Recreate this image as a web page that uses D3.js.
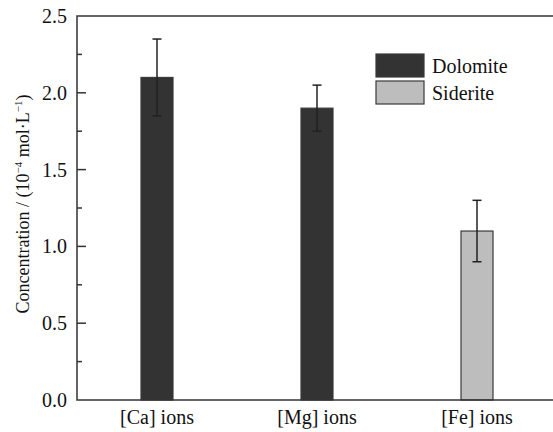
<!DOCTYPE html>
<html>
<head>
<meta charset="utf-8">
<script src="https://cdn.jsdelivr.net/npm/d3@7"></script>
<style>
  body { margin: 0; background: #fff; }
</style>
</head>
<body>
<svg id="chart" width="553" height="432"></svg>
<script>
const categories = ['[Ca] ions', '[Mg] ions', '[Fe] ions']
const values = [2.1, 1.9, 1.1]
const errors = [0.25, 0.15, 0.2]
const groups = ['Dolomite', 'Dolomite', 'Siderite']
const legendItems = ['Dolomite', 'Siderite']
const yTicks = [0, 0.5, 1.0, 1.5, 2.0, 2.5]

const colors = { Dolomite: '#333333', Siderite: '#bdbdbd' }
const axisColor = '#333'
const FONT = "'Liberation Serif'"

const margin = { left: 77, top: 16, bottom: 32 }
const W = 553, H = 432

const svg = d3.select('#chart')

const x = d3.scaleBand(categories, [margin.left, margin.left + 480])
const y = d3.scaleLinear([0, 2.5], [H - margin.bottom, margin.top])
const barW = 32

// bars
svg.append('g').selectAll('rect')
  .data(categories)
  .join('rect')
  .attr('x', d => x(d) + x.bandwidth() / 2 - barW / 2)
  .attr('width', barW)
  .attr('y', (d, i) => y(values[i]))
  .attr('height', (d, i) => y(0) - y(values[i]))
  .attr('fill', (d, i) => colors[groups[i]])
  .attr('stroke', '#3a3a3a')
  .attr('stroke-width', 1.2)

// error bars
const eb = svg.append('g').attr('stroke', '#222').attr('stroke-width', 1.5)
categories.forEach((c, i) => {
  const cx = x(c) + x.bandwidth() / 2
  const lo = y(values[i] - errors[i]), hi = y(values[i] + errors[i])
  eb.append('line').attr('x1', cx).attr('x2', cx).attr('y1', lo).attr('y2', hi)
  eb.append('line').attr('x1', cx - 4.5).attr('x2', cx + 4.5).attr('y1', lo).attr('y2', lo)
  eb.append('line').attr('x1', cx - 4.5).attr('x2', cx + 4.5).attr('y1', hi).attr('y2', hi)
})

// frame (left, bottom, top)
const frame = svg.append('g').attr('stroke', axisColor).attr('stroke-width', 1.5).attr('fill', 'none')
frame.append('path')
  .attr('d', `M${W},${y(2.5)}H${margin.left}V${y(0)}H${W}`)

// y axis ticks (inside)
const minor = d3.range(0.25, 2.5, 0.5)
frame.selectAll('line.major').data(yTicks.slice(1, -1)).join('line')
  .attr('class', 'major')
  .attr('x1', margin.left).attr('x2', margin.left + 9)
  .attr('y1', d => y(d)).attr('y2', d => y(d))
frame.selectAll('line.minor').data(minor).join('line')
  .attr('class', 'minor')
  .attr('x1', margin.left).attr('x2', margin.left + 5)
  .attr('y1', d => y(d)).attr('y2', d => y(d))

svg.append('g').selectAll('text').data(yTicks).join('text')
  .attr('x', 67).attr('y', d => y(d) + 7)
  .attr('text-anchor', 'end')
  .attr('font-family', FONT)
  .attr('font-size', 20)
  .attr('fill', '#111')
  .text(d3.format('.1f'))

// x labels
svg.append('g').selectAll('text').data(categories).join('text')
  .attr('x', d => x(d) + x.bandwidth() / 2)
  .attr('y', 424)
  .attr('text-anchor', 'middle')
  .attr('font-family', FONT)
  .attr('font-size', 20)
  .attr('fill', '#111')
  .text(d => d)

// y title
const yt = svg.append('text')
  .attr('transform', `translate(29,${(y(0) + y(2.5)) / 2 - 4}) rotate(-90)`)
  .attr('text-anchor', 'middle')
  .attr('font-family', FONT)
  .attr('font-size', 18)
  .attr('fill', '#111')
yt.append('tspan').text('Concentration / (10')
yt.append('tspan').attr('font-size', 11).attr('dy', -7).text('−4')
yt.append('tspan').attr('dy', 7).text(' mol·L')
yt.append('tspan').attr('font-size', 11).attr('dy', -7).text('−1')
yt.append('tspan').attr('dy', 7).text(')')

// legend
const lg = svg.append('g').attr('transform', 'translate(376,54)')
legendItems.forEach((k, i) => {
  lg.append('rect').attr('x', 0).attr('y', i * 27).attr('width', 48).attr('height', 23)
    .attr('fill', colors[k]).attr('stroke', '#3a3a3a').attr('stroke-width', 1.2)
  lg.append('text').attr('x', 56).attr('y', i * 27 + 19)
    .attr('font-family', FONT).attr('font-size', 20)
    .attr('fill', '#111').text(k)
})
</script>
</body>
</html>
